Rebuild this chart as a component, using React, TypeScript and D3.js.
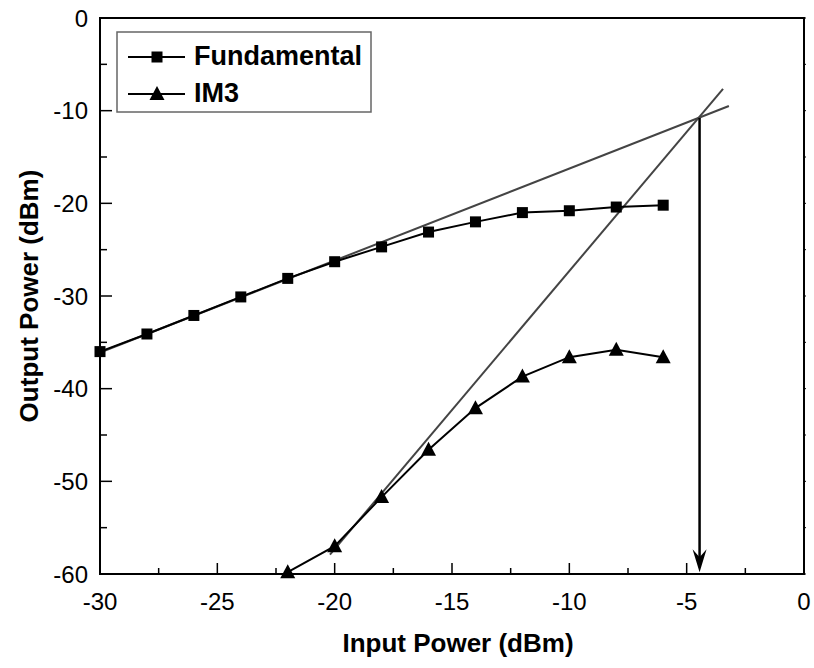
import React from "react";
import * as d3 from "d3";

const fundX = [-30, -28, -26, -24, -22, -20, -18, -16, -14, -12, -10, -8, -6];
const fundY = [-36.0, -34.1, -32.1, -30.1, -28.1, -26.3, -24.7, -23.1, -22.0, -21.0, -20.8, -20.4, -20.2];
const im3X = [-22, -20, -18, -16, -14, -12, -10, -8, -6];
const im3Y = [-59.8, -57.0, -51.7, -46.6, -42.1, -38.7, -36.6, -35.8, -36.6];
const fitFundX = [-30, -3.2];
const fitFundY = [-36.1, -9.5];
const fitIm3X = [-20.2, -3.45];
const fitIm3Y = [-57.9, -7.65];
const arrowX = -4.45;
const arrowY = [-10.8, -59.8];
const xMajor = [-30, -25, -20, -15, -10, -5, 0];
const xMinor = [-27.5, -22.5, -17.5, -12.5, -7.5, -2.5];
const yMajor = [0, -10, -20, -30, -40, -50, -60];
const yMinor = [-5, -15, -25, -35, -45, -55];
const legendLabels = ["Fundamental", "IM3"];

const FONT = "'Liberation Sans', Arial, Helvetica, sans-serif";

export default function App() {
  const x = d3.scaleLinear().domain([-30, 0]).range([100, 804]);
  const y = d3.scaleLinear().domain([-60, 0]).range([574, 18]);
  const line = d3
    .line<[number, number]>()
    .x((d) => x(d[0]))
    .y((d) => y(d[1]));
  const zip = (a: number[], b: number[]) => a.map((v, i) => [v, b[i]] as [number, number]);

  const sq = (cx: number, cy: number, k: string) => (
    <rect key={k} x={cx - 5.5} y={cy - 5.5} width={11} height={11} fill="#000" />
  );
  const tri = (cx: number, cy: number, k: string) => (
    <path key={k} d={`M${cx},${cy - 8}L${cx + 7.5},${cy + 6}L${cx - 7.5},${cy + 6}Z`} fill="#000" />
  );

  const ax = x(arrowX);
  const ay0 = y(arrowY[0]);
  const ay1 = y(arrowY[1]);

  return (
    <svg
      width={814}
      height={668}
      style={{ position: "absolute", left: 0, top: 0, background: "#fff" }}
      fontFamily={FONT}
    >
      <rect x={0} y={0} width={814} height={668} fill="#fff" />
      {/* fit lines */}
      <path d={line(zip(fitFundX, fitFundY)) || ""} fill="none" stroke="#444" strokeWidth={2} />
      <path d={line(zip(fitIm3X, fitIm3Y)) || ""} fill="none" stroke="#444" strokeWidth={2} />
      {/* data */}
      <path d={line(zip(fundX, fundY)) || ""} fill="none" stroke="#000" strokeWidth={2} />
      <path d={line(zip(im3X, im3Y)) || ""} fill="none" stroke="#000" strokeWidth={2} />
      {fundX.map((v, i) => sq(x(v), y(fundY[i]), "f" + i))}
      {im3X.map((v, i) => tri(x(v), y(im3Y[i]), "t" + i))}
      {/* arrow */}
      <line x1={ax} x2={ax} y1={ay0} y2={ay1 - 12} stroke="#000" strokeWidth={2.5} />
      <path d={`M${ax},${ay1}L${ax - 7},${ay1 - 23}L${ax},${ay1 - 15}L${ax + 7},${ay1 - 23}Z`} fill="#000" />
      {/* frame */}
      <rect x={x(-30)} y={y(0)} width={x(0) - x(-30)} height={y(-60) - y(0)} fill="none" stroke="#000" strokeWidth={2} />
      {/* x ticks */}
      {xMajor.map((v) => (
        <g key={"xm" + v}>
          <line x1={x(v)} x2={x(v)} y1={y(-60)} y2={y(-60) - 11} stroke="#000" strokeWidth={1.5} />
          <text x={x(v)} y={610} textAnchor="middle" fontSize={24} fill="#000">
            {v}
          </text>
        </g>
      ))}
      {xMinor.map((v) => (
        <line key={"xn" + v} x1={x(v)} x2={x(v)} y1={y(-60)} y2={y(-60) - 6} stroke="#000" strokeWidth={1.5} />
      ))}
      {/* y ticks */}
      {yMajor.map((v) => (
        <g key={"ym" + v}>
          <line x1={x(-30)} x2={x(-30) + 12} y1={y(v)} y2={y(v)} stroke="#000" strokeWidth={1.5} />
          <line x1={x(0)} x2={x(0) + 2} y1={y(v)} y2={y(v)} stroke="#000" strokeWidth={1} />
          <text x={88} y={y(v) + 8.5} textAnchor="end" fontSize={24} fill="#000">
            {v}
          </text>
        </g>
      ))}
      {yMinor.map((v) => (
        <g key={"yn" + v}>
          <line x1={x(-30)} x2={x(-30) + 7} y1={y(v)} y2={y(v)} stroke="#000" strokeWidth={1.5} />
          <line x1={x(0)} x2={x(0) + 2} y1={y(v)} y2={y(v)} stroke="#000" strokeWidth={1} />
        </g>
      ))}
      {/* axis titles */}
      <text x={458} y={652} textAnchor="middle" fontSize={26} fontWeight="bold" fill="#000">
        Input Power (dBm)
      </text>
      <text
        transform={`translate(38,${(y(0) + y(-60)) / 2}) rotate(-90)`}
        textAnchor="middle"
        fontSize={26}
        fontWeight="bold"
        fill="#000"
      >
        Output Power (dBm)
      </text>
      {/* legend */}
      <rect x={117} y={32} width={254} height={80} fill="#fff" stroke="#666" strokeWidth={1.5} />
      <line x1={128} x2={185} y1={57} y2={57} stroke="#000" strokeWidth={2} />
      {sq(157, 57, "l1")}
      <text x={194} y={64.5} fontSize={27} fontWeight="bold" fill="#000">
        {legendLabels[0]}
      </text>
      <line x1={128} x2={185} y1={94} y2={94} stroke="#000" strokeWidth={2} />
      {tri(157, 94, "l2")}
      <text x={194} y={102} fontSize={27} fontWeight="bold" fill="#000">
        {legendLabels[1]}
      </text>
    </svg>
  );
}
